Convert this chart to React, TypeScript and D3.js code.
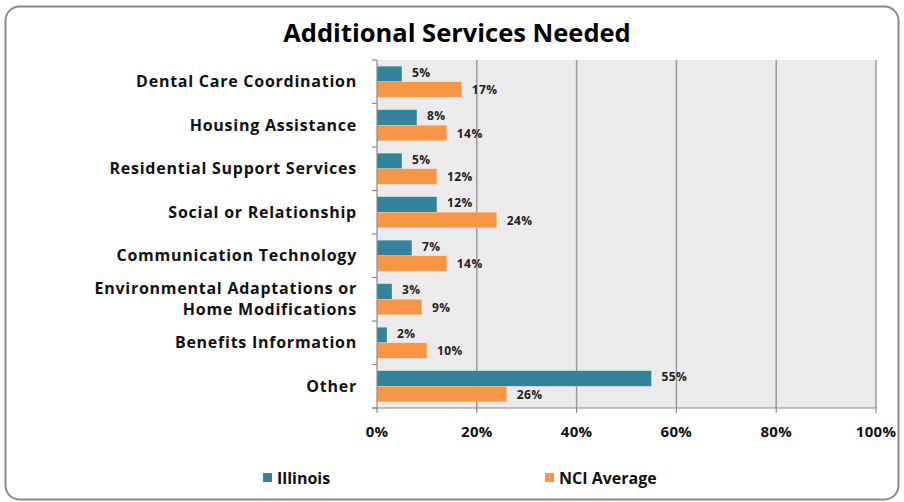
import React from "react";
import * as d3 from "d3";

const categories = [
  "Dental Care Coordination",
  "Housing Assistance",
  "Residential Support Services",
  "Social or Relationship",
  "Communication Technology",
  "Environmental Adaptations or|Home Modifications",
  "Benefits Information",
  "Other",
];
const illinois = [5, 8, 5, 12, 7, 3, 2, 55];
const nciAverage = [17, 14, 12, 24, 14, 9, 10, 26];
const xTicks = [0, 20, 40, 60, 80, 100];
const seriesNames = ["Illinois", "NCI Average"];

const W = 904;
const H = 502;
const left = 377;
const right = 876;
const top = 60;
const bottom = 408;
const TEAL = "#31849b";
const ORANGE = "#f79646";
const FONT = "'Open Sans', sans-serif";

export default function App() {
  const x = d3.scaleLinear().domain([0, 100]).range([left, right]);
  const y = d3
    .scaleBand<number>()
    .domain(d3.range(categories.length))
    .range([top, bottom])
    .paddingInner(0)
    .paddingOuter(0);
  const bw = y.bandwidth();
  const inner = d3
    .scaleBand<number>()
    .domain([0, 1])
    .range([0, bw])
    .paddingOuter(0.4)
    .paddingInner(0);
  const barH = inner.bandwidth();
  const series = [illinois, nciAverage];
  const colors = [TEAL, ORANGE];

  return (
    <svg
      width={W}
      height={H}
      style={{ position: "absolute", left: 0, top: 0 }}
      fontFamily={FONT}
    >
      <rect x={0} y={0} width={W} height={H} fill="#fff" />
      <rect
        x={5.5}
        y={6.5}
        width={893}
        height={493}
        rx={14}
        fill="#fff"
        stroke="#8a8a8a"
        strokeWidth={2}
      />
      <text
        x={457}
        y={42}
        textAnchor="middle"
        fontSize={25.5}
        fontWeight="bold"
        fill="#000"
      >
        Additional Services Needed
      </text>
      <rect x={left} y={top} width={right - left} height={bottom - top} fill="#ebebeb" />
      {xTicks.slice(1).map((t) => (
        <line key={t} x1={x(t)} x2={x(t)} y1={top} y2={bottom} stroke="#9a9a9a" strokeWidth={1.5} />
      ))}
      {series.map((vals, si) =>
        vals.map((v, i) => {
          const by = (y(i) as number) + (inner(si) as number);
          return (
            <g key={`${si}-${i}`}>
              <rect
                x={x(0)}
                y={by}
                width={x(v) - x(0)}
                height={barH}
                fill={colors[si]}
                stroke="#ffffff"
                strokeOpacity={0.4}
                strokeWidth={0.5}
              />
              <text
                x={x(v) + 10}
                y={by + barH / 2 + (si === 0 ? 3 : 4.5)}
                fontSize={12}
                letterSpacing={0.4}
                fontWeight="bold"
                fill="#222"
              >
                {v}%
              </text>
            </g>
          );
        })
      )}
      {/* axes */}
      <line x1={left} x2={left} y1={top} y2={bottom} stroke="#8a8a8a" strokeWidth={1.2} />
      <line x1={left - 5} x2={right} y1={bottom} y2={bottom} stroke="#8a8a8a" strokeWidth={1.2} />
      {d3.range(categories.length + 1).map((i) => (
        <line
          key={i}
          x1={left - 5}
          x2={left}
          y1={top + i * bw}
          y2={top + i * bw}
          stroke="#8a8a8a"
          strokeWidth={1.2}
        />
      ))}
      {xTicks.map((t) => (
        <g key={t}>
          <line x1={x(t)} x2={x(t)} y1={bottom} y2={bottom + 5} stroke="#8a8a8a" strokeWidth={1.2} />
          <text x={x(t)} y={437} textAnchor="middle" fontSize={15} letterSpacing={0.3} fontWeight="bold" fill="#111">
            {t}%
          </text>
        </g>
      ))}
      {categories.map((c, i) => {
        const lines = c.split("|");
        const cy = (y(i) as number) + bw / 2;
        const lh = 21;
        return (
          <text key={c} textAnchor="end" fontSize={16} letterSpacing={0.75} fontWeight="bold" fill="#111">
            {lines.map((l, j) => (
              <tspan key={j} x={357} y={cy + 5.5 + (j - (lines.length - 1) / 2) * lh}>
                {l}
              </tspan>
            ))}
          </text>
        );
      })}
      {/* legend */}
      {seriesNames.map((n, i) => {
        const lx = i === 0 ? 263 : 545;
        return (
          <g key={n}>
            <rect x={lx} y={473} width={9} height={9} fill={colors[i]} />
            <text x={lx + 14} y={484} fontSize={16} fontWeight="bold" fill="#111">
              {n}
            </text>
          </g>
        );
      })}
    </svg>
  );
}
